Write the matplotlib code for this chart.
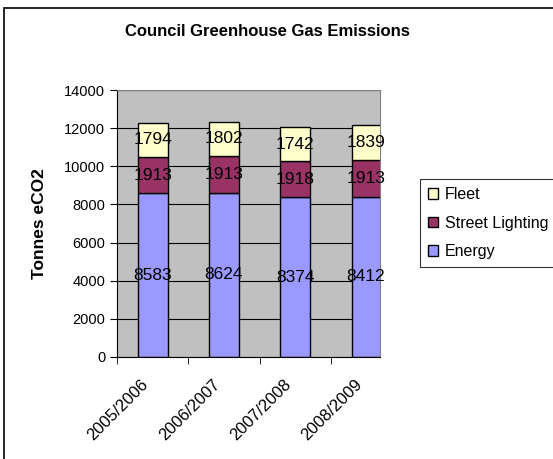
import matplotlib.pyplot as plt
import matplotlib.patches as patches
from matplotlib.transforms import ScaledTranslation
import numpy as np

years = ['2005/2006', '2006/2007', '2007/2008', '2008/2009']
energy = [8583, 8624, 8374, 8412]
street = [1913, 1913, 1918, 1913]
fleet = [1794, 1802, 1742, 1839]

plt.rcParams['font.family'] = ['Liberation Sans', 'DejaVu Sans']

fig = plt.figure(figsize=(5.53, 4.59), dpi=100)
ax = fig.add_axes([117/553, 102/459, 263/553, 267/459])

x = np.arange(len(years))
w = 0.42
b1 = ax.bar(x, energy, w, color='#9999FF', edgecolor='black', lw=1, label='Energy')
b2 = ax.bar(x, street, w, bottom=energy, color='#993366', edgecolor='black', lw=1, label='Street Lighting')
bot = np.array(energy) + np.array(street)
b3 = ax.bar(x, fleet, w, bottom=bot, color='#FFFFCC', edgecolor='black', lw=1, label='Fleet')

for bars, vals in [(b1, energy), (b2, street), (b3, fleet)]:
    ax.bar_label(bars, labels=[str(v) for v in vals], label_type='center', fontsize=12.5)

ax.set_facecolor('#C0C0C0')
ax.set_xlim(-0.5, -0.5 + 263/71.3)
ax.set_ylim(0, 14000)
ax.set_yticks(range(0, 14001, 2000))
ax.yaxis.grid(True, color='black', lw=0.8)
ax.set_axisbelow(True)
ax.tick_params(axis='y', labelsize=10.5, length=5, direction='out', color='black')

ax.set_xticks(x)
ax.set_xticklabels(years, rotation=45, ha='right', rotation_mode='anchor', fontsize=12)
ax.tick_params(axis='x', which='major', length=0, pad=14)
ax.set_xticks(np.arange(-0.5, 3.0, 1.0), minor=True)
ax.tick_params(axis='x', which='minor', length=5, color='black')
shift = ScaledTranslation(-12/100, 0, fig.dpi_scale_trans)
for lab in ax.get_xticklabels():
    lab.set_transform(lab.get_transform() + shift)

for s in ['top', 'right']:
    ax.spines[s].set_color('#808080')
for s in ['left', 'bottom']:
    ax.spines[s].set_color('black')

ax.set_ylabel('Tonnes eCO2', fontsize=12.5, fontweight='bold', labelpad=12)
fig.text(267/553, 1 - 32/459, 'Council Greenhouse Gas Emissions', ha='center', va='center',
         fontsize=12, fontweight='bold')

h, l = ax.get_legend_handles_labels()
leg = fig.legend(h[::-1], l[::-1], loc='upper left', bbox_to_anchor=(420/553, 1 - 179/459, 0.3, 0.0),
                 mode='expand', fontsize=11.5, frameon=True, fancybox=False, edgecolor='black',
                 borderaxespad=0, handlelength=0.65, handleheight=0.65, handletextpad=0.4,
                 labelspacing=0.85, borderpad=0.5)
leg.get_frame().set_linewidth(0.8)

border = patches.Rectangle((4/553, -0.1), 1.2, 1 - 8/459 + 0.1, transform=fig.transFigure,
                           fill=False, edgecolor='black', lw=1.2)
fig.add_artist(border)

fig.savefig('out.png', dpi=100)
